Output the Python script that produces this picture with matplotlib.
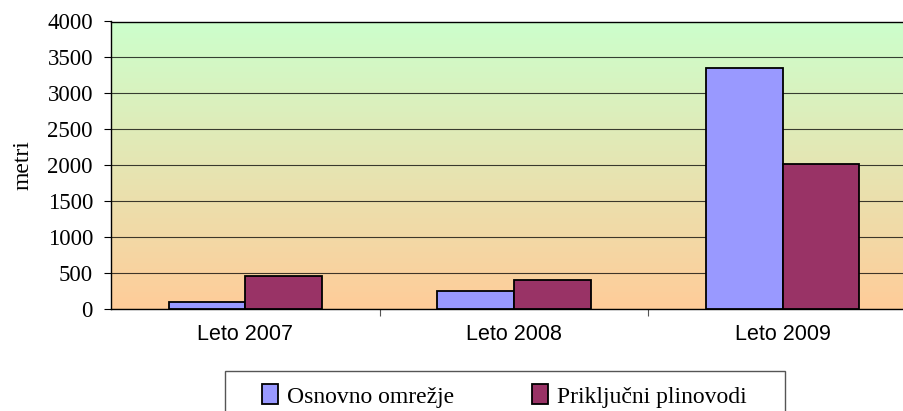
import numpy as np
import matplotlib.pyplot as plt
from matplotlib.colors import LinearSegmentedColormap
from matplotlib.patches import Rectangle

years = ['Leto 2007', 'Leto 2008', 'Leto 2009']
osnovno = [100, 245, 3350]
prikljucni = [460, 410, 2020]
series_names = ['Osnovno omrežje', 'Priključni plinovodi']
yticks = [0, 500, 1000, 1500, 2000, 2500, 3000, 3500, 4000]

serif = ['Liberation Serif', 'DejaVu Serif']
sans = ['Liberation Sans', 'DejaVu Sans']

fig = plt.figure(figsize=(9.04, 4.11), dpi=100)
ax = fig.add_axes([111 / 904, 1 - 309 / 411, 806 / 904, 287.5 / 411])

# gradient background, peach at bottom -> light green at top
cmap = LinearSegmentedColormap.from_list('bg', ['#FFCC99', '#CCFFCC'])
grad = np.linspace(0, 1, 256).reshape(-1, 1)
ax.imshow(grad, cmap=cmap, origin='lower', aspect='auto',
          extent=(-0.5, 2.5, 0, 4000), zorder=0)

x = np.arange(len(years))
w = 0.2857
ax.bar(x - w / 2, osnovno, w, color='#9999FF', edgecolor='black', linewidth=1.3,
       label=series_names[0], zorder=3)
ax.bar(x + w / 2, prikljucni, w, color='#993366', edgecolor='black', linewidth=1.3,
       label=series_names[1], zorder=3)

ax.set_xlim(-0.5, 2.5)
ax.set_ylim(0, 4000)
ax.set_yticks(yticks)
ax.set_yticklabels([str(v) for v in yticks], family=serif, fontsize=16.5)
ax.yaxis.grid(True, color='black', linewidth=0.8, alpha=0.75, zorder=1)
ax.tick_params(axis='y', length=5, width=0.8, pad=8, color='black')

ax.set_xticks(x)
ax.set_xticklabels(years, family=sans, fontsize=15.5)
ax.tick_params(axis='x', which='major', length=0, pad=11)
ax.set_xticks([0.5, 1.5], minor=True)
ax.tick_params(axis='x', which='minor', length=5, width=0.8, color='#555555')

ax.spines['right'].set_visible(False)
ax.spines['top'].set_linewidth(1.0)
ax.spines['left'].set_linewidth(1.0)
ax.spines['bottom'].set_linewidth(1.0)

ax.set_ylabel('metri', family=serif, fontsize=17, labelpad=10)

# legend box (runs past the bottom edge of the picture)
fig.patches.append(Rectangle((225 / 904, -0.05), 560 / 904, (1 - 371 / 411) + 0.05,
                             transform=fig.transFigure, facecolor='white',
                             edgecolor='#555555', linewidth=1.0, zorder=1))
leg = fig.legend(loc='center left', bbox_to_anchor=(262 / 904, 1 - 396 / 411),
                 ncol=2, frameon=False, borderaxespad=0, borderpad=0,
                 prop={'family': serif, 'size': 17}, handlelength=0.68,
                 handleheight=0.93, handletextpad=0.38, columnspacing=3.3)
for h in leg.legend_handles:
    h.set_linewidth(1.3)

fig.savefig('out.png', dpi=100)
